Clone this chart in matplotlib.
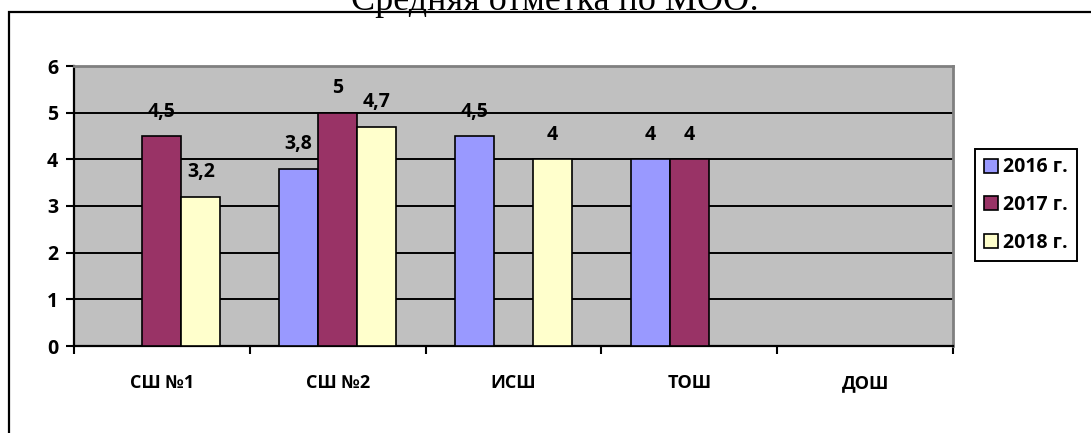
import matplotlib
matplotlib.use("Agg")
import matplotlib.pyplot as plt
import numpy as np
from matplotlib.patches import Rectangle

# school names and average marks per year (None = no data)
schools = ['СШ №1', 'СШ №2', 'ИСШ', 'ТОШ', 'ДОШ']
years = ['2016 г.', '2017 г.', '2018 г.']
marks_2016 = [None, 3.8, 4.5, 4, None]
marks_2017 = [4.5, 5, None, 4, None]
marks_2018 = [3.2, 4.7, 4, None, None]
colors = ['#9999FF', '#993366', '#FFFFCC']

plt.rcParams['font.family'] = ['Open Sans', 'DejaVu Sans']

W, H = 1091, 433
fig = plt.figure(figsize=(W / 100, H / 100), dpi=100)

# outer chart frame (runs off the right and bottom edges)
fig.patches.append(Rectangle((9 / W, -0.1), 1.2, 1.1 - 12 / H, transform=fig.transFigure,
                             fill=False, edgecolor='black', lw=1.6, clip_on=False))

fig.text(555 / W, 1 - 10 / H, 'Средняя отметка по МОО:', ha='center', va='baseline',
         fontsize=26, family=['Liberation Serif', 'DejaVu Serif'])

left, right, top, bottom = 74, 953, 66, 346
ax = fig.add_axes([left / W, 1 - bottom / H, (right - left) / W, (bottom - top) / H])
ax.set_facecolor('#C0C0C0')

x = np.arange(len(schools)) + 0.5
bw = 0.222
for i, (vals, col, name) in enumerate(zip([marks_2016, marks_2017, marks_2018], colors, years)):
    xs = [xx + (i - 1) * bw for xx, v in zip(x, vals) if v is not None]
    vs = [v for v in vals if v is not None]
    ax.bar(xs, vs, width=bw, color=col, edgecolor='black', linewidth=1.2, label=name, zorder=3)
    for xx, v in zip(xs, vs):
        ax.annotate(f'{v:g}'.replace('.', ','), (xx, v), xytext=(0, 17.5), textcoords='offset points',
                    ha='center', va='center', fontsize=14, fontweight='bold', zorder=4)

ax.set_xlim(0, len(schools))
ax.set_ylim(0, 6)
ax.set_yticks(range(7))
for y in range(1, 6):
    ax.axhline(y, color='black', lw=1.4, zorder=1)

ax.set_xticks(range(len(schools) + 1))
ax.set_xticklabels([])
ax.set_xticks(x, minor=True)
ax.set_xticklabels(schools, minor=True)
ax.tick_params(axis='x', which='major', length=5.5, width=1.5, direction='out')
ax.tick_params(axis='x', which='minor', length=0, pad=20, labelsize=13)
ax.tick_params(axis='y', length=5.5, width=1.5, pad=6, labelsize=14)
for lab in ax.get_xticklabels(minor=True) + ax.get_yticklabels():
    lab.set_fontweight('bold')

for s in ['left', 'bottom']:
    ax.spines[s].set_color('black')
    ax.spines[s].set_linewidth(1.6)
for s in ['top', 'right']:
    ax.spines[s].set_color('#808080')
    ax.spines[s].set_linewidth(2)

leg = fig.legend(loc='center', bbox_to_anchor=(1026 / W, 1 - 205 / H), frameon=True, fancybox=False,
                 edgecolor='black', framealpha=1, handlelength=0.7, handleheight=0.7,
                 handletextpad=0.3, labelspacing=0.9, borderpad=0.45, borderaxespad=0,
                 prop={'weight': 'bold', 'size': 14})
leg.get_frame().set_linewidth(1.4)

fig.savefig('out.png', dpi=100)
